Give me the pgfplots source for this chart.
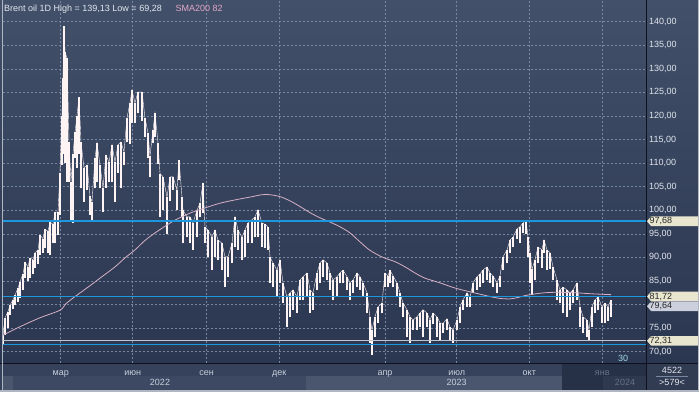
\documentclass[border=0pt]{standalone}
\usepackage{pgfplots}
\pgfplotsset{compat=1.18}
\usepackage{pgfplotstable}
\usepackage{fontspec}
\setmainfont{Liberation Sans}
\newcommand\ff{\fontsize{9}{10}\selectfont}

\definecolor{bgtop}{RGB}{66,80,106}
\definecolor{bgbot}{RGB}{43,54,80}
\definecolor{stripc}{RGB}{54,66,91}
\definecolor{yrA}{RGB}{74,86,110}
\definecolor{yrB}{RGB}{61,73,98}
\definecolor{darkov}{RGB}{38,48,70}
\definecolor{darkov2}{RGB}{46,57,80}
\definecolor{gridc}{RGB}{120,136,162}
\definecolor{pricec}{RGB}{255,244,244}
\definecolor{smac}{RGB}{214,176,196}
\definecolor{cyanl}{RGB}{28,150,220}
\definecolor{greyl}{RGB}{192,196,204}
\definecolor{ticktext}{RGB}{225,230,238}
\definecolor{monthtext}{RGB}{200,208,222}
\definecolor{dimtext}{RGB}{100,112,136}
\definecolor{titletext}{RGB}{228,232,240}
\definecolor{titlepink}{RGB}{226,168,198}
\definecolor{boxbeige}{RGB}{232,230,206}
\definecolor{boxgrey}{RGB}{204,208,220}
\definecolor{bordc}{RGB}{176,182,194}
\definecolor{framec}{RGB}{14,18,28}

\pgfplotstableread{
x lo hi
3 71.4 73.5
5 73.5 77.2
8 75.0 78.5
10 77.8 79.9
13 79.0 81.0
15 80.0 82.0
18 80.5 83.5
20 81.4 84.8
23 83.0 86.5
25 85.6 89.0
28 85.0 88.0
30 85.6 89.9
33 86.5 89.5
35 87.7 91.0
38 88.5 91.5
40 90.5 94.7
43 91.0 94.0
45 92.0 96.0
48 91.0 95.5
50 90.5 97.5
53 93.0 97.0
55 93.0 99.6
58 94.8 99.6
60 99.0 108.0
62 109.6 120.0
63 112.0 128.0
64 115.0 139.1
65 110.0 133.6
67 106.0 132.3
69 106.0 114.5
71 97.5 106.0
73 97.2 112.0
75 111.0 116.5
77 109.0 120.0
79 112.0 124.0
81 104.7 114.5
84 101.8 109.0
87 104.3 109.6
90 99.0 103.0
92 97.5 101.8
95 104.7 111.0
97 106.0 114.3
100 104.7 109.6
103 99.6 104.7
106 104.7 111.7
109 106.0 110.2
112 106.0 113.9
115 101.8 110.2
118 108.0 113.9
121 104.7 114.5
124 109.6 112.4
127 114.5 119.6
130 114.0 122.8
132 118.5 125.5
135 118.5 122.8
138 120.6 125.1
142 119.0 125.1
145 115.5 119.6
148 111.0 116.4
150 107.0 111.5
153 114.3 117.0
155 115.5 120.6
158 109.8 114.3
160 98.5 107.8
163 100.0 107.1
167 95.0 102.8
170 102.0 107.1
173 104.3 107.1
177 100.0 104.3
179 106.4 110.7
182 98.6 102.8
183 93.0 100.0
187 94.3 98.6
190 93.0 98.6
193 91.6 97.3
197 94.3 100.0
200 98.6 101.5
203 99.4 105.8
205 93.0 96.5
208 90.1 95.8
212 87.3 94.3
215 90.1 95.8
218 89.5 93.7
222 87.3 93.0
225 83.7 90.1
228 85.9 90.1
232 88.8 93.0
235 92.2 98.6
238 91.6 95.8
242 89.5 94.3
245 90.1 95.8
248 93.0 97.3
252 93.0 98.0
255 94.3 98.6
258 94.3 100.1
262 92.2 97.3
265 92.0 97.0
268 91.6 96.5
270 84.6 90.1
273 83.7 88.8
277 81.6 87.3
280 84.6 89.5
283 80.3 84.6
287 75.2 81.6
290 77.4 82.5
293 78.9 83.1
297 78.2 81.6
300 81.0 85.2
303 81.0 85.9
307 81.6 86.7
310 78.2 83.1
313 78.9 82.5
317 83.1 86.7
320 84.6 88.8
323 85.9 89.5
327 85.2 88.8
330 83.1 86.7
333 81.0 85.2
337 81.6 85.9
340 84.6 86.7
343 84.6 87.3
347 83.1 85.9
350 81.0 84.6
353 82.5 85.2
357 83.7 86.7
360 83.1 85.9
363 81.6 84.6
367 78.2 82.5
370 71.8 77.3
372 69.3 74.6
375 73.1 77.4
378 76.1 79.5
382 78.2 80.3
385 83.7 86.7
388 83.7 86.1
390 84.6 87.3
393 83.7 86.1
397 81.6 84.6
400 79.5 82.5
403 77.4 80.3
407 73.1 78.9
410 71.8 77.4
413 74.6 76.7
417 74.6 77.4
420 75.2 78.2
423 73.1 78.9
427 75.2 78.2
430 71.8 76.7
433 75.9 78.2
437 73.1 77.4
440 72.5 76.1
443 74.0 76.0
447 74.6 77.0
450 72.5 75.2
453 71.8 74.6
457 74.6 76.7
460 76.1 79.5
463 78.9 81.0
467 79.5 82.5
470 79.5 81.5
473 82.5 84.6
477 83.1 85.9
480 83.7 86.5
483 84.6 87.3
487 85.2 88.0
490 84.6 86.7
493 83.7 86.1
497 82.5 84.6
500 83.7 86.1
503 87.3 90.1
507 88.8 91.6
510 90.9 93.7
513 92.2 94.3
517 94.0 96.0
520 93.0 96.5
523 95.2 97.3
526 95.0 97.9
528 90.1 94.3
530 84.6 91.0
532 82.0 87.5
535 85.2 89.5
538 88.8 92.2
542 87.8 91.6
544 91.0 93.7
547 87.3 91.6
550 87.5 91.0
553 85.2 88.0
557 81.0 85.2
560 80.3 83.1
563 78.2 83.7
567 77.4 83.1
570 78.9 82.5
573 80.3 83.1
577 81.0 84.6
580 75.2 79.5
583 73.9 77.4
587 73.1 76.7
589 72.5 74.6
592 75.2 79.5
595 78.2 81.0
598 78.9 81.6
602 76.1 79.5
605 76.1 80.3
608 76.5 79.5
611 77.4 81.0
}\price

\pgfplotstableread{
x sma
3 73.5
20 75.3
40 77.2
60 78.8
66 80.2
77 82.0
90 84.0
100 85.6
115 88.0
125 89.9
135 91.6
145 93.6
155 95.2
165 96.6
175 97.9
190 99.4
205 100.5
220 101.5
235 102.2
250 102.8
262 103.3
270 103.3
280 102.9
290 102.0
300 100.8
310 99.5
320 98.4
330 97.5
340 96.5
350 95.2
360 93.3
370 91.5
383 90.0
395 89.1
405 88.0
415 86.7
425 85.6
440 84.6
455 83.5
470 82.7
480 82.2
490 81.7
500 81.3
510 81.2
518 81.5
525 81.9
540 82.4
555 82.6
575 82.5
590 82.3
600 82.2
611 82.1
}\smadata

\newcommand\pricetag[3]{% coord, fill colour, text
  \begin{scope}[shift={(#1)}]
    \fill[#2] (1pt,0pt) -- (5pt,4.8pt) -- (52pt,4.8pt) -- (52pt,-4.8pt) -- (5pt,-4.8pt) -- cycle;
    \node[anchor=west, inner sep=0pt, text=black!85, font=\ff] at (3.5pt,0pt) {#3};
  \end{scope}}

\begin{document}
\begin{tikzpicture}
\shade[top color=bgtop,bottom color=bgbot] (0pt,29pt) rectangle (699pt,392pt);
\fill[stripc] (0pt,0pt) rectangle (699pt,29pt);
\fill[yrA] (3pt,2pt) rectangle (13pt,16pt);
\fill[yrB] (13pt,2pt) rectangle (306pt,16pt);
\fill[yrA] (306pt,2pt) rectangle (562pt,16pt);
\fill[darkov] (562pt,2pt) rectangle (646pt,29pt);
\fill[darkov2] (603pt,2pt) rectangle (646pt,16pt);
\fill[stripc!90!black] (646pt,2pt) rectangle (699pt,29pt);

\begin{axis}[
  at={(3pt,29pt)}, anchor=south west,
  width=643pt, height=363pt, scale only axis,
  xmin=3, xmax=646, ymin=67.60, ymax=144.61,
  axis line style={draw=none},
  major tick length=0pt,
  grid=major,
  major grid style={dash pattern=on 2pt off 2pt, color=gridc, line width=0.5pt},
  ytick={70,75,...,140},
  yticklabels={{70,00},{75,00},{},{85,00},{90,00},{95,00},{100,00},{105,00},{110,00},{115,00},{120,00},{125,00},{130,00},{135,00},{140,00}},
  yticklabel pos=right,
  yticklabel style={anchor=west, inner sep=0pt, xshift=3pt, text=ticktext, font=\ff},
  xtick={60.7,132.7,206.7,279.3,385,456.7,529.3,602.3},
  xticklabels={мар,июн,сен,дек,апр,июл,окт,{\textcolor{dimtext}{янв}}},
  xticklabel style={anchor=north, inner sep=0pt, yshift=-7pt, text height=5pt, text depth=1.5pt, text=monthtext, font=\ff},
]
% daily high-low range drawn as vertical strokes
\addplot[draw=none, mark=none,
  error bars/.cd, y dir=plus, y explicit,
  error bar style={pricec, line width=2.3pt}, error mark=none]
  table[x=x, y=lo, y error expr=\thisrow{hi}-\thisrow{lo}]{\price};
\addplot[draw=pricec, line width=0.4pt] table[x=x,y=hi]{\price};
\addplot[smac, line width=0.8pt, smooth] table[x=x,y=sma]{\smadata};
\addplot[cyanl, line width=1.5pt] coordinates {(3,97.68) (646,97.68)};
\addplot[cyanl, line width=1.2pt] coordinates {(3,81.72) (646,81.72)};
\addplot[cyanl, line width=1.2pt] coordinates {(3,71.6) (646,71.6)};
\addplot[greyl, line width=0.9pt] coordinates {(3,72.31) (646,72.31)};
\coordinate (t1) at (axis cs:646,97.68);
\coordinate (t2) at (axis cs:646,81.72);
\coordinate (t3) at (axis cs:646,79.64);
\coordinate (t4) at (axis cs:646,72.31);
\end{axis}

\pricetag{t1}{boxbeige}{97,68}
\pricetag{t2}{boxbeige}{81,72}
\pricetag{t3}{boxgrey}{79,64}
\pricetag{t4}{boxbeige}{72,31}

\draw[framec, line width=1pt] (646pt,0pt) -- (646pt,392pt);
\draw[framec, line width=1pt] (0pt,29pt) -- (699pt,29pt);
\draw[bordc, line width=0.8pt] (2.5pt,2pt) -- (2.5pt,392pt);
\fill[bordc] (0pt,0pt) rectangle (699pt,1.6pt);
\fill[bordc] (697.6pt,0pt) rectangle (699pt,392pt);

\node[anchor=base west, inner sep=0pt, font=\ff, text=titletext] at (4pt,380.5pt) {Brent oil 1D High = 139,13 Low = 69,28};
\node[anchor=base west, inner sep=0pt, font=\ff, text=titlepink] at (175.5pt,380.5pt) {SMA200 82};

\node[font=\ff, text=monthtext] at (160pt,9.7pt) {2022};
\node[font=\ff, text=monthtext] at (456.7pt,9.7pt) {2023};
\node[font=\ff, text=dimtext] at (625pt,9.7pt) {2024};
\node[font=\ff, text=monthtext!80!cyan] at (623pt,34pt) {30};
\node[font=\ff, text=ticktext] at (672pt,22pt) {4522};
\draw[gridc, line width=0.5pt] (656pt,16pt) -- (688pt,16pt);
\node[font=\ff, text=ticktext] at (672pt,9.3pt) {>579<};

\pgfresetboundingbox
\useasboundingbox (0pt,0pt) rectangle (699pt,392pt);
\end{tikzpicture}
\end{document}
